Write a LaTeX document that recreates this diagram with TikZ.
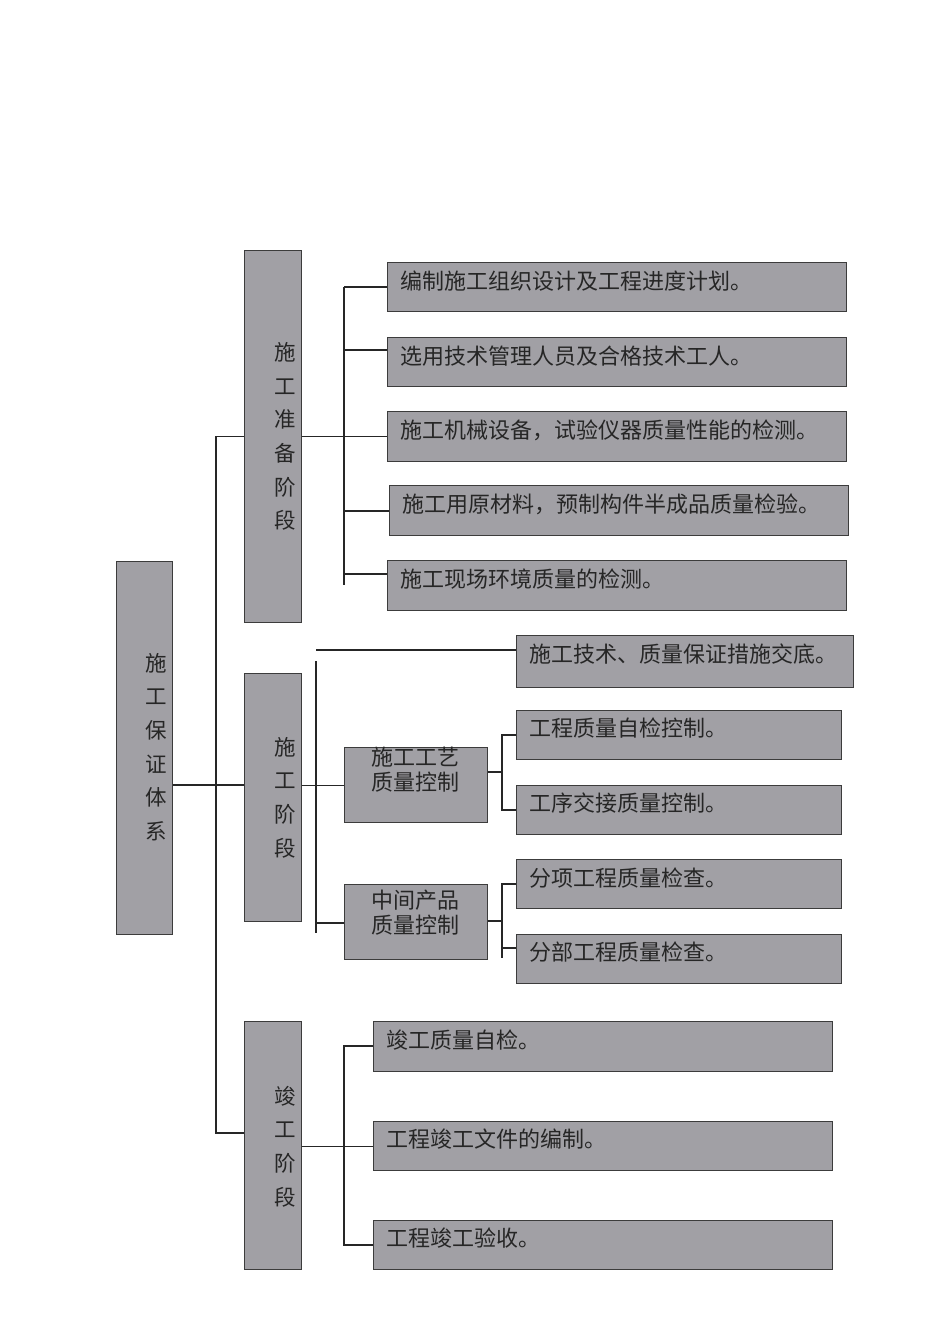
\documentclass[tikz,border=0pt]{standalone}
\usepackage{fontspec}
\setmainfont{Noto Sans CJK SC}
\definecolor{boxfill}{RGB}{161,160,165}
\definecolor{boxline}{RGB}{60,60,60}
\begin{document}
\begin{tikzpicture}[x=1pt,y=-1pt,
  box/.style={draw=boxline, fill=boxfill, line width=1.1pt, inner sep=0pt, anchor=north west},
  conn/.style={draw=black!85, line width=1.1pt},
  txt/.style={anchor=west, inner sep=0pt, text=black!85, font=\fontsize{22}{25}\selectfont},
  vtxt/.style={align=center, inner sep=0pt, text=black!85, font=\fontsize{21.5}{33.6}\selectfont},
  ptxt/.style={align=center, inner sep=0pt, text=black!85, font=\fontsize{22}{25}\selectfont}]
\useasboundingbox (0,0) rectangle (950,1344);

% level boxes
\node[box, minimum width=56pt, minimum height=373pt] (root) at (116,561) {};
\node[box, minimum width=57pt, minimum height=372pt] (s1) at (244,250) {};
\node[box, minimum width=57pt, minimum height=248pt] (s2) at (244,673) {};
\node[box, minimum width=57pt, minimum height=248pt] (s3) at (244,1021) {};

\node[vtxt] (roott) at (156,747) {施\\工\\保\\证\\体\\系};
\node[vtxt] (s1t) at (285,436.5) {施\\工\\准\\备\\阶\\段};
\node[vtxt] (s2t) at (285,797.5) {施\\工\\阶\\段};
\node[vtxt] (s3t) at (285,1146.5) {竣\\工\\阶\\段};

% stage 1 items
\node[box, minimum width=459pt, minimum height=49pt] (b1) at (387,262) {};
\node[box, minimum width=459pt, minimum height=49pt] (b2) at (387,337) {};
\node[box, minimum width=459pt, minimum height=50pt] (b3) at (387,411) {};
\node[box, minimum width=459pt, minimum height=50pt] (b4) at (389,485) {};
\node[box, minimum width=459pt, minimum height=50pt] (b5) at (387,560) {};
\node[txt] (b1t) at ([shift={(13,19)}]b1.north west) {编制施工组织设计及工程进度计划。};
\node[txt] (b2t) at ([shift={(13,19)}]b2.north west) {选用技术管理人员及合格技术工人。};
\node[txt] (b3t) at ([shift={(13,19)}]b3.north west) {施工机械设备，试验仪器质量性能的检测。};
\node[txt] (b4t) at ([shift={(13,19)}]b4.north west) {施工用原材料，预制构件半成品质量检验。};
\node[txt] (b5t) at ([shift={(13,19)}]b5.north west) {施工现场环境质量的检测。};

% stage 2 items
\node[box, minimum width=337pt, minimum height=52pt] (c1) at (516,635) {};
\node[box, minimum width=143pt, minimum height=75pt] (p1) at (344,747) {};
\node[box, minimum width=143pt, minimum height=75pt] (p2) at (344,884) {};
\node[box, minimum width=325pt, minimum height=49pt] (q1) at (516,710) {};
\node[box, minimum width=325pt, minimum height=49pt] (q2) at (516,785) {};
\node[box, minimum width=325pt, minimum height=49pt] (q3) at (516,859) {};
\node[box, minimum width=325pt, minimum height=49pt] (q4) at (516,934) {};
\node[txt] (c1t) at ([shift={(13,19)}]c1.north west) {施工技术、质量保证措施交底。};
\node[txt] (q1t) at ([shift={(13,18)}]q1.north west) {工程质量自检控制。};
\node[txt] (q2t) at ([shift={(13,18)}]q2.north west) {工序交接质量控制。};
\node[txt] (q3t) at ([shift={(13,19)}]q3.north west) {分项工程质量检查。};
\node[txt] (q4t) at ([shift={(13,18)}]q4.north west) {分部工程质量检查。};
\node[ptxt] (p1t) at (415.5,769.5) {施工工艺\\质量控制};
\node[ptxt] (p2t) at (415.5,912.5) {中间产品\\质量控制};

% stage 3 items
\node[box, minimum width=459pt, minimum height=50pt] (e1) at (373,1021) {};
\node[box, minimum width=459pt, minimum height=49pt] (e2) at (373,1121) {};
\node[box, minimum width=459pt, minimum height=49pt] (e3) at (373,1220) {};
\node[txt] (e1t) at ([shift={(13,19)}]e1.north west) {竣工质量自检。};
\node[txt] (e2t) at ([shift={(13,18)}]e2.north west) {工程竣工文件的编制。};
\node[txt] (e3t) at ([shift={(13,18)}]e3.north west) {工程竣工验收。};

% trunk
\coordinate (tr1) at (216,436.5);
\coordinate (tr2) at (216,785);
\coordinate (tr3) at (216,1133);
\draw[conn] (tr1 -| s1.west) -- (tr1) -- (tr3) -- (tr3 -| s3.west);
\draw[conn] (tr2 -| root.east) -- (tr2 -| s2.west);

% stage 1 connectors
\coordinate (v1t) at (344,287);
\coordinate (v1b) at (344,585);
\coordinate (j12) at (344,350);
\coordinate (j14) at (344,511);
\coordinate (j15) at (344,574);
\draw[conn] (v1t) -- (v1b);
\draw[conn] (v1t) -- (v1t -| b1.west);
\draw[conn] (j12) -- (j12 -| b2.west);
\draw[conn] (s1.east) -- (b3.west);
\draw[conn] (j14) -- (j14 -| b4.west);
\draw[conn] (j15) -- (j15 -| b5.west);

% stage 2 connectors
\coordinate (h2) at (316,650);
\coordinate (v2t) at (316,661);
\coordinate (v2b) at (316,933);
\coordinate (j2p) at (316,923);
\draw[conn] (h2) -- (h2 -| c1.west);
\draw[conn] (v2t) -- (v2b);
\draw[conn] (p1.west -| s2.east) -- (p1.west);
\draw[conn] (j2p) -- (j2p -| p2.west);
\coordinate (k1) at (502,772);
\coordinate (k1t) at (502,735);
\coordinate (k1b) at (502,810);
\draw[conn] (k1 -| p1.east) -- (k1);
\draw[conn] (k1t -| q1.west) -- (k1t) -- (k1b) -- (k1b -| q2.west);
\coordinate (k2) at (502,921);
\coordinate (k2t) at (502,884);
\coordinate (k2m) at (502,948);
\coordinate (k2b) at (502,958);
\draw[conn] (k2 -| p2.east) -- (k2);
\draw[conn] (k2t -| q3.west) -- (k2t) -- (k2b);
\draw[conn] (k2m) -- (k2m -| q4.west);

% stage 3 connectors
\coordinate (v3t) at (344,1046);
\coordinate (v3b) at (344,1245);
\draw[conn] (s3.east |- e2.west) -- (e2.west);
\draw[conn] (v3t -| e1.west) -- (v3t) -- (v3b) -- (v3b -| e3.west);
\end{tikzpicture}
\end{document}
